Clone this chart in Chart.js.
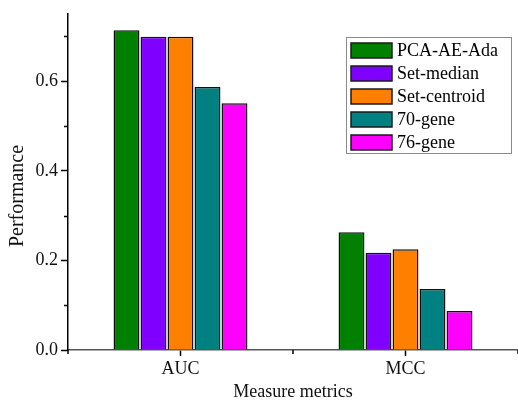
<!DOCTYPE html>
<html>
<head>
<meta charset="utf-8">
<script src="https://cdn.jsdelivr.net/npm/chart.js@4/dist/chart.umd.min.js"></script>
<style>
html,body{margin:0;padding:0;background:#fff;}
canvas{display:block;}
</style>
</head>
<body>
<canvas id="c" width="518" height="402"></canvas>
<script>
const categories = ["AUC", "MCC"];
const seriesNames = ["PCA-AE-Ada", "Set-median", "Set-centroid", "70-gene", "76-gene"];
const pcaAeAda   = [0.714, 0.263];
const setMedian  = [0.699, 0.217];
const setCentroid= [0.699, 0.225];
const gene70     = [0.587, 0.136];
const gene76     = [0.551, 0.087];
const yTickValues = [0, 0.2, 0.4, 0.6];
const yMinorTicks = [0.1, 0.3, 0.5, 0.7];
const colors = ["#008000", "#8000ff", "#ff8000", "#008080", "#ff00ff"];
const FONT = '"Liberation Serif", "Times New Roman", serif';
const yTitle = "Performance";

const seriesValues = [pcaAeAda, setMedian, setCentroid, gene70, gene76];

const minorTickPlugin = {
  id: 'minorTicks',
  afterDraw(chart) {
    const ctx = chart.ctx;
    const y = chart.scales.y, x = chart.scales.x;
    ctx.save();
    ctx.strokeStyle = '#000';
    ctx.lineWidth = 1.5;
    ctx.beginPath();
    yMinorTicks.forEach(v => {
      const py = Math.round(y.getPixelForValue(v)) + 0.5;
      ctx.moveTo(x.left - 4, py);
      ctx.lineTo(x.left, py);
    });
    const half = (x.getPixelForValue(1) - x.getPixelForValue(0)) / 2;
    for (let i = 0; i <= categories.length; i++) {
      const px = Math.round(x.getPixelForValue(0) - half + i * 2 * half);
      ctx.moveTo(px, y.bottom);
      ctx.lineTo(px, y.bottom + 4);
    }
    ctx.stroke();
    // y axis title
    ctx.translate(18, 196);
    ctx.rotate(-Math.PI / 2);
    ctx.font = '20px ' + FONT;
    ctx.fillStyle = '#111';
    ctx.textAlign = 'center';
    ctx.textBaseline = 'middle';
    ctx.fillText(yTitle, 0, 0);
    ctx.restore();
  }
};

const boxLegendPlugin = {
  id: 'boxLegend',
  afterDraw(chart) {
    const ctx = chart.ctx;
    ctx.save();
    ctx.strokeStyle = '#8a8a8a';
    ctx.lineWidth = 1;
    ctx.strokeRect(346.5, 37.5, 165, 116);
    ctx.font = '18px ' + FONT;
    ctx.textBaseline = 'middle';
    ctx.fillStyle = '#000';
    chart.data.datasets.forEach((ds, i) => {
      const top = 43 + i * 23;
      ctx.fillStyle = ds.backgroundColor;
      ctx.fillRect(351, top, 41, 15);
      ctx.strokeStyle = '#1a1a1a';
      ctx.lineWidth = 1.5;
      ctx.strokeRect(351, top, 41, 15);
      ctx.fillStyle = '#000';
      ctx.fillText(ds.label, 397, top + 8);
    });
    ctx.restore();
  }
};

new Chart(document.getElementById('c'), {
  type: 'bar',
  data: {
    labels: categories,
    datasets: seriesNames.map((n, i) => ({
      label: n,
      data: seriesValues[i],
      backgroundColor: colors[i],
      borderColor: '#111',
      borderWidth: 1.5,
      categoryPercentage: 0.6,
      barPercentage: 0.96
    }))
  },
  options: {
    responsive: false,
    animation: false,
    layout: { padding: { top: 14, left: 0, right: 0, bottom: 0 } },
    plugins: { legend: { display: false }, tooltip: { enabled: false } },
    scales: {
      x: {
        afterFit(s) { s.height = 52; },
        grid: { display: true, drawOnChartArea: false, drawTicks: true, tickLength: 6, tickWidth: 1.5, tickColor: '#000', offset: false },
        border: { display: true, color: '#555', width: 1.5 },
        ticks: { color: '#111', font: { family: FONT, size: 18 }, padding: 2 },
        title: { display: true, text: 'Measure metrics', color: '#111', font: { family: FONT, size: 18 }, padding: { top: 0, bottom: -1 } }
      },
      y: {
        min: 0,
        max: 0.75,
        afterFit(s) { s.width = 68; },
        afterBuildTicks(s) { s.ticks = yTickValues.map(v => ({ value: v })); },
        grid: { display: true, drawOnChartArea: false, drawTicks: true, tickLength: 7, tickWidth: 1.5, tickColor: '#000' },
        border: { display: true, color: '#000', width: 1.5 },
        ticks: { color: '#111', font: { family: FONT, size: 18 }, padding: 3, callback: v => Number(v).toFixed(1) },
        title: { display: false }
      }
    }
  },
  plugins: [minorTickPlugin, boxLegendPlugin]
});
</script>
</body>
</html>
